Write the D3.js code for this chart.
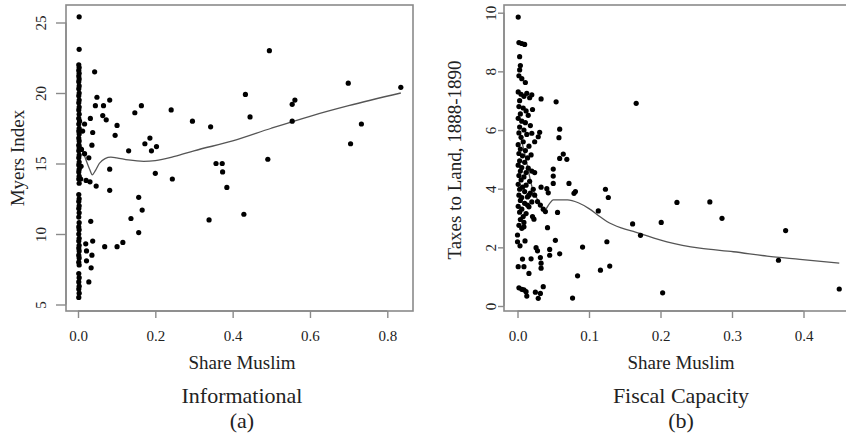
<!DOCTYPE html>
<html><head><meta charset="utf-8">
<script src="https://cdn.jsdelivr.net/npm/d3@7"></script>
<style>
html,body{margin:0;padding:0;background:#fff;}
svg{display:block;}
svg text{font-family:"Liberation Serif","DejaVu Serif",serif !important;}
</style></head>
<body><svg id="c" width="846" height="436"></svg>
<script>
// ---------- DATA ----------
const leftXTicks = [0, 0.2, 0.4, 0.6, 0.8];
const leftYTicks = [5, 10, 15, 20, 25];
const rightXTicks = [0, 0.1, 0.2, 0.3, 0.4];
const rightYTicks = [0, 2, 4, 6, 8, 10];

// Panel (a): Share Muslim vs Myers Index
const myersColumn = [
 [0.003,25.4],[0.003,23.1],[0.002,22.0],[0.003,21.8],[0.002,21.6],[0.003,21.4],[0.002,21.2],[0.003,21.0],[0.002,20.8],[0.003,20.5],
 [0.002,20.3],[0.003,20.0],[0.002,19.8],[0.003,19.5],[0.002,19.3],[0.003,19.0],[0.002,18.8],[0.003,18.5],[0.002,18.2],[0.004,18.0],
 [0.002,17.8],[0.003,17.5],[0.002,17.3],[0.012,17.3],[0.003,17.1],[0.002,16.8],[0.003,16.6],[0.002,16.3],[0.003,16.1],[0.002,15.9],
 [0.009,16.0],[0.003,15.6],[0.002,15.4],[0.003,15.1],[0.008,14.8],[0.002,14.9],[0.003,14.6],[0.002,14.4],[0.003,14.1],[0.002,13.9],
 [0.007,13.9],[0.003,13.6],[0.002,12.8],[0.003,12.5],[0.002,12.3],[0.003,12.0],[0.002,11.8],[0.003,11.5],[0.002,11.2],[0.003,10.8],
 [0.002,10.5],[0.003,10.3],[0.002,10.0],[0.003,9.7],[0.002,9.5],[0.003,9.2],[0.002,9.0],[0.003,8.8],[0.002,8.5],[0.003,8.3],
 [0.002,8.0],[0.003,7.8],[0.002,7.2],[0.003,6.9],[0.002,6.6],[0.003,6.3],[0.002,6.1],[0.003,5.8],[0.002,5.5]
];
const myersScatter = [
 [0.043,21.5],[0.049,19.7],[0.045,19.1],[0.066,19.1],[0.082,19.5],[0.064,18.4],[0.073,18.1],[0.032,18.2],[0.017,17.8],[0.101,17.7],
 [0.038,17.2],[0.096,17.0],[0.036,16.3],[0.147,18.6],[0.164,19.1],[0.241,18.8],[0.296,18.0],[0.343,17.6],[0.131,15.9],[0.173,16.4],
 [0.186,16.8],[0.190,15.9],[0.203,16.2],[0.017,15.7],[0.028,15.4],[0.082,14.6],[0.200,14.3],[0.244,13.9],[0.021,13.8],[0.031,13.7],
 [0.047,13.4],[0.082,13.1],[0.157,12.6],[0.166,11.7],[0.137,11.1],[0.157,10.1],[0.033,10.9],[0.020,9.3],[0.038,9.5],[0.069,9.1],
 [0.101,9.1],[0.116,9.4],[0.022,8.8],[0.036,8.5],[0.022,8.1],[0.034,7.6],[0.028,6.6],[0.339,11.0],[0.495,23.0],[0.433,19.9],
 [0.445,18.3],[0.554,19.2],[0.561,19.5],[0.554,18.0],[0.699,20.7],[0.835,20.4],[0.733,17.8],[0.705,16.4],[0.491,15.3],[0.357,15.0],
 [0.373,15.0],[0.374,14.4],[0.385,13.3],[0.429,11.4]
];
const myersFit = [
 [0.002,16.9],[0.010,16.1],[0.020,15.3],[0.030,14.6],[0.037,14.2],[0.045,14.5],[0.055,15.0],[0.070,15.35],[0.085,15.45],[0.100,15.4],
 [0.130,15.25],[0.170,15.15],[0.200,15.2],[0.250,15.5],[0.300,15.9],[0.400,16.6],[0.500,17.5],[0.600,18.35],[0.700,19.1],[0.835,20.0]
];

// Panel (b): Share Muslim vs Taxes to Land, 1888-1890
const taxColumn = [
 [0.001,9.85],[0.002,8.98],[0.006,8.95],[0.010,8.92],[0.003,8.5],[0.004,8.2],[0.003,8.05],[0.002,7.85],[0.006,7.75],[0.011,7.62],
 [0.001,7.3],[0.005,7.22],[0.009,7.15],[0.013,7.25],[0.017,7.1],[0.020,7.2],[0.003,7.0],[0.002,6.8],[0.008,6.75],[0.012,6.65],
 [0.004,6.55],[0.015,6.5],[0.001,6.4],[0.006,6.3],[0.011,6.25],[0.018,6.15],[0.003,6.1],[0.009,6.0],[0.002,5.9],[0.013,5.85],
 [0.005,5.75],[0.008,5.6],[0.001,5.5],[0.016,5.45],[0.004,5.35],[0.011,5.3],[0.002,5.2],[0.007,5.12],[0.014,5.05],[0.019,5.15],
 [0.003,4.95],[0.010,4.9],[0.001,4.8],[0.006,4.72],[0.015,4.7],[0.004,4.6],[0.012,4.55],[0.020,4.6],[0.002,4.45],[0.009,4.4],
 [0.005,4.3],[0.017,4.25],[0.001,4.15],[0.012,4.12],[0.007,4.05],[0.022,3.98],[0.003,3.98],[0.010,3.9],[0.018,3.85],[0.024,3.78],
 [0.002,3.78],[0.006,3.7],[0.016,3.78],[0.014,3.72],[0.004,3.6],[0.028,3.56],[0.020,3.55],[0.010,3.5],[0.032,3.44],[0.014,3.44],
 [0.001,3.4],[0.016,3.38],[0.036,3.3],[0.006,3.3],[0.039,3.22],[0.003,3.2],[0.012,3.15],[0.021,3.05],[0.008,3.05],[0.023,2.96],
 [0.004,2.95],[0.009,2.85],[0.002,2.75],[0.009,2.7],[0.006,2.65],[0.000,2.42],[0.000,2.19],[0.0035,2.05],[0.0105,2.22],[0.019,1.61],
 [0.007,1.6],[0.001,1.34],[0.009,1.34],[0.016,1.11],[0.002,0.62],[0.006,0.57],[0.009,0.55],[0.012,0.49],[0.013,0.34]
];
const taxScatter = [
 [0.033,7.06],[0.054,6.96],[0.021,6.7],[0.059,6.03],[0.058,5.74],[0.020,5.89],[0.024,5.6],[0.031,5.92],[0.029,5.77],[0.064,5.18],
 [0.059,5.03],[0.069,5.0],[0.024,4.55],[0.050,4.67],[0.050,4.43],[0.050,4.18],[0.072,4.18],[0.033,4.05],[0.041,4.0],[0.123,3.98],
 [0.043,3.86],[0.079,3.84],[0.081,3.9],[0.127,3.7],[0.056,3.19],[0.113,3.24],[0.042,2.67],[0.053,2.24],[0.091,2.01],[0.125,2.19],
 [0.026,1.99],[0.028,1.88],[0.045,1.93],[0.045,1.73],[0.059,1.78],[0.032,1.65],[0.033,1.46],[0.033,1.29],[0.084,1.03],[0.116,1.22],
 [0.129,1.36],[0.025,0.47],[0.029,0.26],[0.032,0.43],[0.036,0.66],[0.077,0.27],[0.166,6.91],[0.223,3.53],[0.269,3.55],[0.286,2.99],
 [0.161,2.8],[0.201,2.85],[0.172,2.41],[0.375,2.57],[0.365,1.56],[0.203,0.45],[0.450,0.58]
];
const taxFit = [
 [0.003,5.9],[0.011,5.1],[0.021,4.0],[0.030,3.55],[0.037,3.25],[0.045,3.5],[0.050,3.62],[0.070,3.62],[0.085,3.52],[0.100,3.32],
 [0.115,3.05],[0.125,2.88],[0.145,2.66],[0.165,2.52],[0.209,2.19],[0.255,1.97],[0.302,1.85],[0.349,1.70],[0.395,1.59],[0.450,1.46]
];

// ---------- DRAW ----------
const svg = d3.select("#c");
const frameColor = "#8a8a8a";
const FONT = "'Liberation Serif', 'DejaVu Serif', serif";

function panel(o){
  const g = svg.append("g").attr("font-family", FONT);
  const x = d3.scaleLinear().domain(o.xDom).range(o.xRange);
  const y = d3.scaleLinear().domain(o.yDom).range(o.yRange);
  g.append("rect").attr("x", o.box[0]).attr("y", o.box[1])
   .attr("width", o.box[2]-o.box[0]).attr("height", o.box[3]-o.box[1])
   .attr("fill","none").attr("stroke",frameColor).attr("stroke-width",1.6);
  const xa = g.append("g").attr("transform",`translate(0,${o.box[3]})`)
    .call(d3.axisBottom(x).tickValues(o.xTicks).tickFormat(d3.format(".1f")).tickSize(7).tickPadding(12));
  xa.attr("font-family", FONT).attr("font-size", 15);
  xa.select(".domain").attr("d", `M${x(o.xTicks[0])},0H${x(o.xTicks[o.xTicks.length-1])}`).attr("stroke",frameColor).attr("stroke-width",1.4);
  xa.selectAll(".tick line").attr("stroke",frameColor).attr("stroke-width",1.4);
  xa.selectAll(".tick text").attr("fill","#222");
  const ya = g.append("g").attr("transform",`translate(${o.box[0]},0)`)
    .call(d3.axisLeft(y).tickValues(o.yTicks).tickFormat(d3.format("d")).tickSize(o.yTick));
  ya.attr("font-family", FONT).attr("font-size", 15);
  ya.select(".domain").attr("d", `M0,${y(o.yTicks[0])}V${y(o.yTicks[o.yTicks.length-1])}`).attr("stroke",frameColor).attr("stroke-width",1.4);
  ya.selectAll(".tick line").attr("stroke",frameColor).attr("stroke-width",1.4);
  ya.selectAll(".tick text").attr("fill","#222")
    .attr("x",0).attr("dy",null).attr("y",-o.yLab).attr("text-anchor","middle")
    .attr("transform","rotate(-90)");
  g.append("path").datum(o.fit)
   .attr("d", d3.line().x(d=>x(d[0])).y(d=>y(d[1])).curve(d3.curveMonotoneX))
   .attr("fill","none").attr("stroke","#555").attr("stroke-width",1.3);
  g.selectAll("circle.pt").data(o.points).join("circle")
   .attr("cx",d=>x(d[0])).attr("cy",d=>y(d[1])).attr("r",2.6).attr("fill","#000");
  g.append("text").attr("x",o.cx).attr("y",369).attr("text-anchor","middle")
   .attr("font-size",19).attr("fill","#222").text("Share Muslim");
  g.append("text").attr("x",o.cx).attr("y",403).attr("text-anchor","middle")
   .attr("font-size",22).attr("fill","#222").text(o.title);
  g.append("text").attr("x",o.cx).attr("y",428).attr("text-anchor","middle")
   .attr("font-size",22).attr("fill","#222").text(o.sub);
  g.append("text").attr("transform",`translate(${o.yTitleX},${o.yTitleY}) rotate(-90)`)
   .attr("text-anchor","middle").attr("font-size",19).attr("fill","#222").text(o.yTitle);
}

panel({
  xDom:[0,0.8], xRange:[78,387.3], yDom:[5,25], yRange:[304.5,22.5],
  box:[66,5,413,311], xTicks:leftXTicks, yTicks:leftYTicks, yTick:10, yLab:20,
  fit:myersFit, points:myersColumn.concat(myersScatter),
  cx:242, title:"Informational", sub:"(a)", yTitle:"Myers Index", yTitleX:24, yTitleY:158
});
panel({
  xDom:[0,0.4], xRange:[517.5,803.5], yDom:[0,10], yRange:[306,12.7],
  box:[504,5,856,311], xTicks:rightXTicks, yTicks:rightYTicks, yTick:6, yLab:8,
  fit:taxFit, points:taxColumn.concat(taxScatter),
  cx:681, title:"Fiscal Capacity", sub:"(b)", yTitle:"Taxes to Land, 1888-1890", yTitleX:461, yTitleY:160
});
</script></body></html>
